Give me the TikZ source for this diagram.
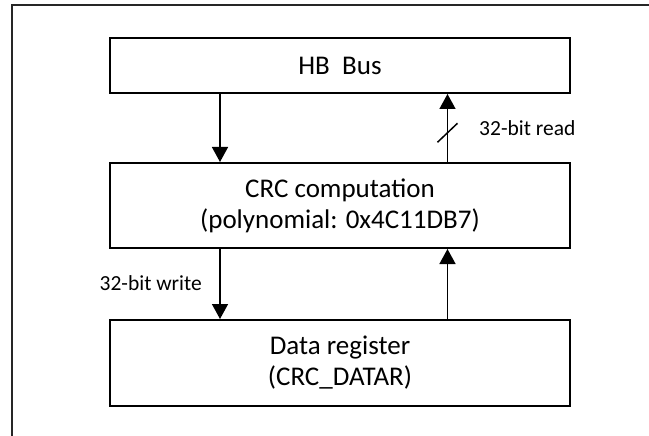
\documentclass[tikz,border=0pt]{standalone}
\usepackage{fontspec}
\setmainfont{Carlito}
\usetikzlibrary{arrows.meta,calc}

\begin{document}
\begin{tikzpicture}[x=1pt,y=-1pt,
  block/.style={draw,line width=2pt,minimum width=460pt,inner sep=0pt,
    align=center,font=\fontsize{27}{31}\selectfont},
  arr/.style={line width=1.5pt,-{Triangle[width=16pt,length=15pt]}},
  lbl/.style={inner sep=0pt,font=\fontsize{21.5}{26}\selectfont}]
  \useasboundingbox (0,0) rectangle (649,436);
  \draw[line width=1.3pt,black!85] (12,440) -- (12,5) -- (655,5);
  \node (bus) at (340,65.5) [block,minimum height=55pt] {HB\ \ Bus};
  \node (crc) at (340,205.5) [block,minimum height=85pt] {CRC computation\\(polynomial: 0x4C11DB7)};
  \node (dreg) at (340,363) [block,minimum height=86pt] {Data register\\(CRC\_DATAR)};
  \coordinate (lcol) at (220,0);
  \coordinate (rcol) at (447.5,0);
  \draw[arr] (bus.south -| lcol) -- (crc.north -| lcol);
  \draw[arr] (crc.north -| rcol) -- coordinate[pos=0.43] (rd) (bus.south -| rcol);
  \draw[line width=1.5pt] ($(rd)+(-10,9.5)$) -- ($(rd)+(10,-9.5)$);
  \draw[arr] (crc.south -| lcol) -- (dreg.north -| lcol);
  \draw[arr] (dreg.north -| rcol) -- (crc.south -| rcol);
  \node (rdlbl) at (479,128) [lbl,anchor=west] {32-bit read};
  \node (wrlbl) at (202,283) [lbl,anchor=east] {32-bit write};
\end{tikzpicture}
\end{document}
